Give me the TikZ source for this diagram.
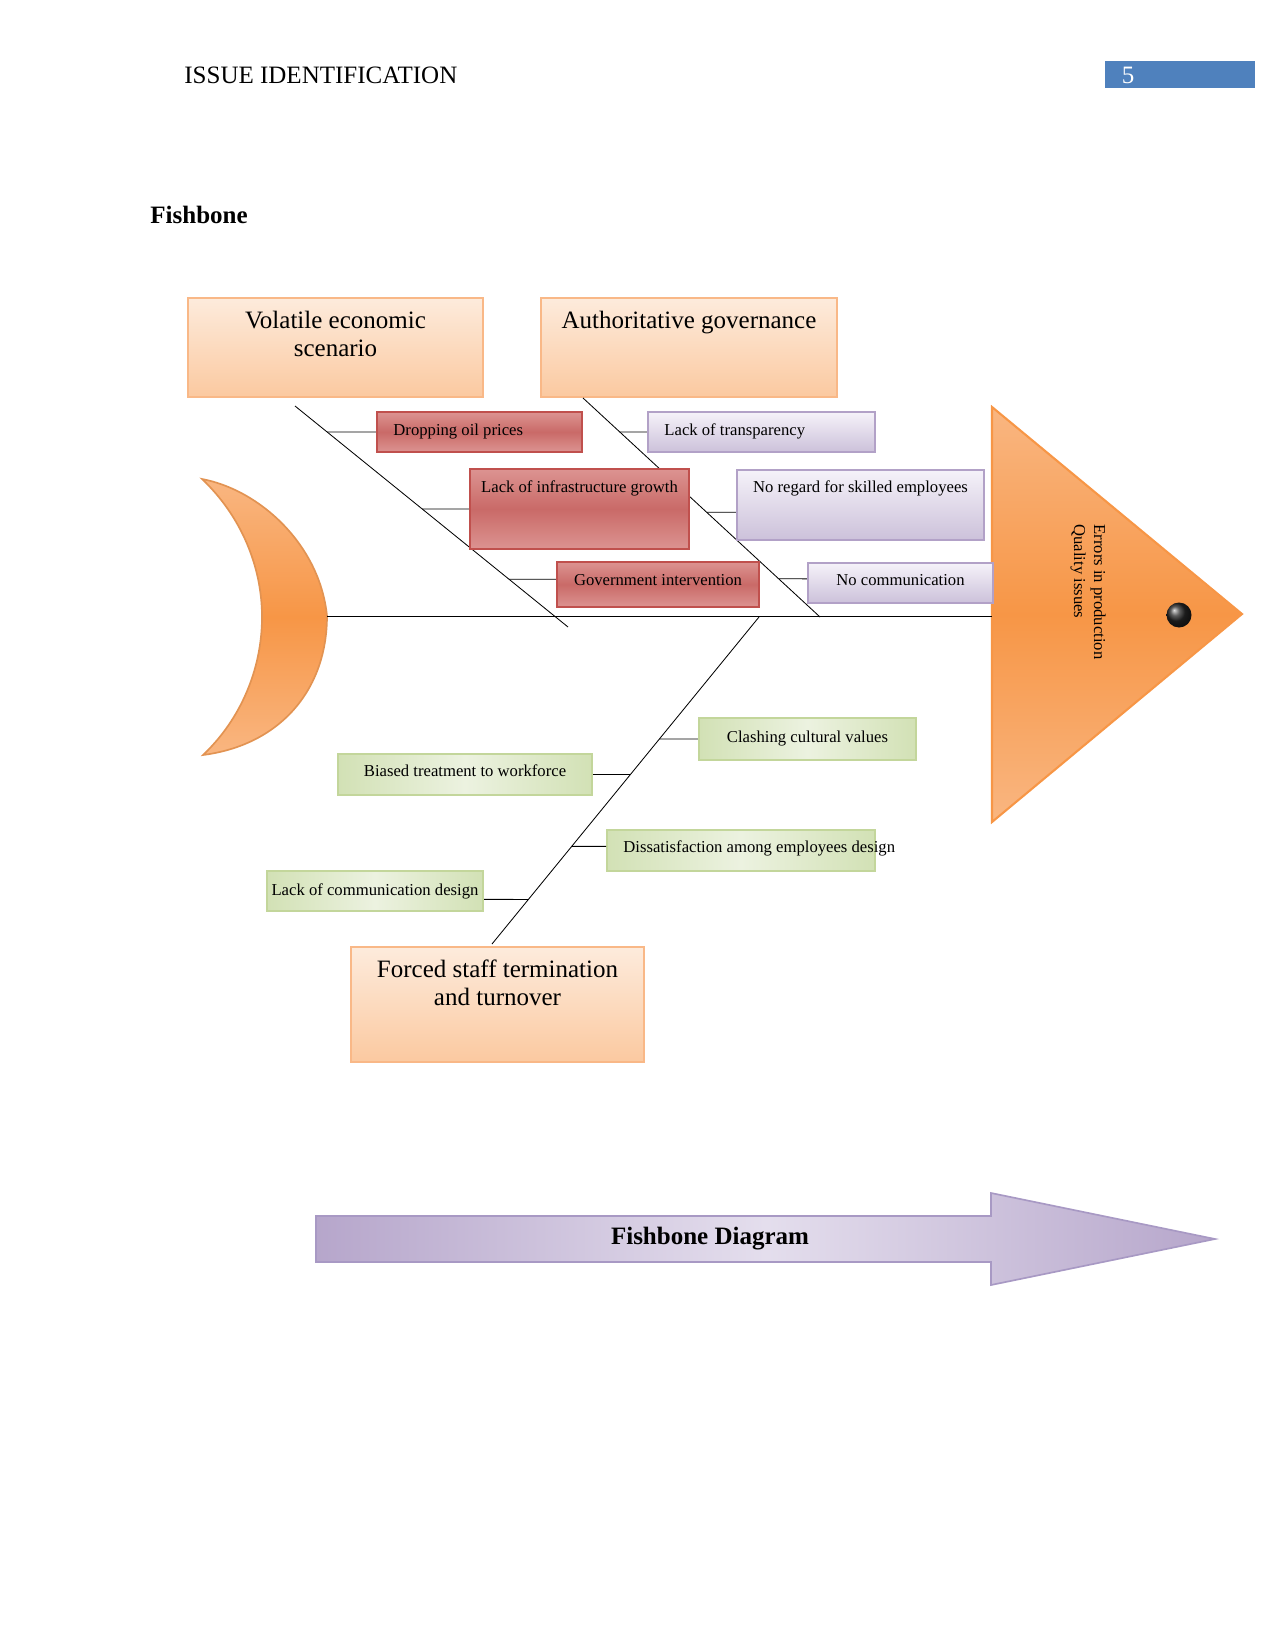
\documentclass[tikz,border=0pt]{standalone}
\usepackage{fontspec}
\setmainfont{Liberation Serif}
\usetikzlibrary{calc}
\definecolor{pgblue}{HTML}{4F81BD}
\definecolor{peachtop}{HTML}{FDEBDC}
\definecolor{peachbot}{HTML}{FBC9A0}
\definecolor{peachedge}{HTML}{F9B887}
\definecolor{redlite}{HTML}{DC9391}
\definecolor{reddark}{HTML}{C0504D}
\definecolor{lavtop}{HTML}{F5F2F9}
\definecolor{lavbot}{HTML}{CCC1DA}
\definecolor{lavedge}{HTML}{B2A1C7}
\definecolor{grnside}{HTML}{D2E1B5}
\definecolor{grnmid}{HTML}{ECF2E0}
\definecolor{grnedge}{HTML}{C3D69B}
\definecolor{fishorange}{HTML}{F79646}
\definecolor{fishlite}{HTML}{F9B681}
\definecolor{arrside}{HTML}{B6A6CB}
\definecolor{arrmid}{HTML}{E4DEED}
\definecolor{arredge}{HTML}{A899C4}

\begin{document}
\begin{tikzpicture}[
    x=0.48pt, y=-0.48pt,
    every node/.style={text=black},
    bigbox/.style={draw=peachedge, line width=1.2pt, top color=peachtop, bottom color=peachbot},
    redbox/.style={draw=reddark, line width=1pt, top color=redlite, bottom color=redlite, middle color=reddark!85},
    lavbox/.style={draw=lavedge, line width=1pt, top color=lavtop, bottom color=lavbot},
    grnbox/.style={draw=grnedge, line width=1pt, left color=grnside, right color=grnside, middle color=grnmid},
    bigtxt/.style={font=\fontsize{12}{13.6}\selectfont, align=center, inner sep=0pt},
    smalltxt/.style={font=\fontsize{8}{9.6}\selectfont, inner sep=0pt},
    bone/.style={black, line width=0.4pt},
  ]
  \useasboundingbox (0,0) rectangle (1275,1651);

  % Page header
  \node[font=\fontsize{12}{14}\selectfont, anchor=west, inner sep=0pt] (head) at (184,75) {ISSUE IDENTIFICATION};
  \node[fill=pgblue, minimum width=72pt, minimum height=13pt, anchor=north west, inner sep=0pt] (pgbox) at (1105,61) {};
  \node[font=\fontsize{12}{14}\selectfont, text=white, inner sep=0pt] (pgnum) at (1128,75) {5};
  \node[font=\fontsize{12}{14}\selectfont\bfseries, anchor=west, inner sep=0pt] (sect) at (150,215) {Fishbone};

  % === Tail (crescent) ===
  \draw[draw=fishorange!90!black!90, line width=0.8pt, top color=fishlite, bottom color=fishlite, middle color=fishorange]
    (202,479) .. controls (260,490) and (320,545) .. (327,616)
    .. controls (327,690) and (280,745) .. (203,755)
    .. controls (240,720) and (262,670) .. (262,617)
    .. controls (262,565) and (240,515) .. cycle;
  \coordinate (tail) at (327,616);

  % === Head (triangle) ===
  \draw[draw=fishorange, line width=1pt, top color=fishlite, bottom color=fishlite, middle color=fishorange]
    (992,407) -- (1242,614) -- (992,822) -- cycle;
  \coordinate (nose) at (992,616);
  \shade[ball color=black!85] (1179,615) circle (6pt);
  \node[smalltxt, rotate=-90, align=left] (effect) at (1088,592) {Errors in production\\Quality issues};

  % Spine
  \draw[bone] (tail) -- (nose);

  % === Category boxes ===
  \node[bigbox, minimum width=141.6pt, minimum height=47.5pt] (econ) at (335.5,347.5) {};
  \node[bigtxt] (econtxt) at (335.5,334) {Volatile economic\\scenario};
  \node[bigbox, minimum width=142pt, minimum height=47.5pt] (gover) at (689,347.5) {};
  \node[bigtxt] (govertxt) at (689,323) {Authoritative governance};
  \node[bigbox, minimum width=140.6pt, minimum height=55.2pt] (staff) at (497.5,1004.5) {};
  \node[bigtxt] (stafftxt) at (497.5,983) {Forced staff termination\\and turnover};

  % Bones
  \coordinate (b1a) at (295,406);
  \coordinate (b1b) at (568,627);
  \coordinate (b2a) at (583,398);
  \coordinate (b2b) at (820,617);
  \coordinate (b3a) at (759,617);
  \coordinate (b3b) at (492,944);
  \draw[bone] (b1a) -- (b1b);
  \draw[bone] (b2a) -- (b2b);
  \draw[bone] (b3a) -- (b3b);

  % === Economic causes (red) ===
  \node[redbox, minimum width=98.4pt, minimum height=19.2pt] (oil) at (479.5,432) {};
  \node[smalltxt, anchor=west] (oiltxt) at (393,432) {Dropping oil prices};
  \node[redbox, minimum width=105.1pt, minimum height=38.4pt] (infra) at (579.5,509) {};
  \node[smalltxt] (infratxt) at (579.5,488) {Lack of infrastructure growth};
  \node[redbox, minimum width=97pt, minimum height=21.6pt] (govint) at (658,584.5) {};
  \node[smalltxt] (govinttxt) at (658,580) {Government intervention};

  % === Governance causes (lavender) ===
  \node[lavbox, minimum width=109pt, minimum height=19.2pt] (transp) at (761.5,432) {};
  \node[smalltxt, anchor=west] (transptxt) at (664,431) {Lack of transparency};
  \node[lavbox, minimum width=118.6pt, minimum height=33.6pt] (skill) at (860.5,505) {};
  \node[smalltxt] (skilltxt) at (860.5,488) {No regard for skilled employees};
  \node[lavbox, minimum width=88.8pt, minimum height=19.2pt] (nocom) at (900.5,583) {};
  \node[smalltxt] (nocomtxt) at (900.5,580) {No communication};

  % === Staff causes (green) ===
  \node[grnbox, smalltxt, minimum width=104.2pt, minimum height=20.2pt] (clash) at (807.5,739) {Clashing cultural values};
  \node[grnbox, minimum width=121.9pt, minimum height=19.7pt] (bias) at (465,774.5) {};
  \node[smalltxt] (biastxt) at (465,771) {Biased treatment to workforce};
  \node[grnbox, minimum width=128.6pt, minimum height=19.7pt] (dissat) at (741,850.5) {};
  \node[smalltxt, anchor=west] (dissattxt) at (623,848.5) {Dissatisfaction among employees design};
  \node[grnbox, smalltxt, minimum width=103.7pt, minimum height=19.2pt] (lcomm) at (375,891) {Lack of communication design};

  % Stubs from boxes to bones
  \coordinate (govw) at ([yshift=2.5pt]govint.west);
  \coordinate (gove) at ([yshift=2.5pt]govint.east);
  \coordinate (skillw) at ([yshift=-3.5pt]skill.west);
  \coordinate (skille) at ([yshift=-3.5pt]skill.east);
  \coordinate (nocomw) at ([yshift=2pt]nocom.west);
  \coordinate (nocome) at ([yshift=2pt]nocom.east);
  \coordinate (dissw) at ([yshift=2pt]dissat.west);
  \coordinate (disse) at ([yshift=2pt]dissat.east);
  \coordinate (lcomw) at ([yshift=-4pt]lcomm.west);
  \coordinate (lcome) at ([yshift=-4pt]lcomm.east);
  \draw[bone] (oil.west) -- (intersection of b1a--b1b and oil.west--oil.east);
  \draw[bone] (infra.west) -- (intersection of b1a--b1b and infra.west--infra.east);
  \draw[bone] (govw) -- (intersection of b1a--b1b and govw--gove);
  \draw[bone] (transp.west) -- (intersection of b2a--b2b and transp.west--transp.east);
  \draw[bone] (skillw) -- (intersection of b2a--b2b and skillw--skille);
  \draw[bone] (nocomw) -- (intersection of b2a--b2b and nocomw--nocome);
  \draw[bone] (clash.west) -- (intersection of b3a--b3b and clash.west--clash.east);
  \draw[bone] (bias.east) -- (intersection of b3a--b3b and bias.west--bias.east);
  \draw[bone] (dissw) -- (intersection of b3a--b3b and dissw--disse);
  \draw[bone] (lcome) -- (intersection of b3a--b3b and lcomw--lcome);

  % === Caption arrow ===
  \draw[draw=arredge, line width=0.8pt, left color=arrside, right color=arrside, middle color=arrmid]
    (316,1216) -- (991,1216) -- (991,1193) -- (1215,1239) -- (991,1285) -- (991,1262) -- (316,1262) -- cycle;
  \node[font=\fontsize{12}{14}\selectfont\bfseries, inner sep=0pt] (caption) at (710,1239) {Fishbone Diagram};

\end{tikzpicture}
\end{document}
